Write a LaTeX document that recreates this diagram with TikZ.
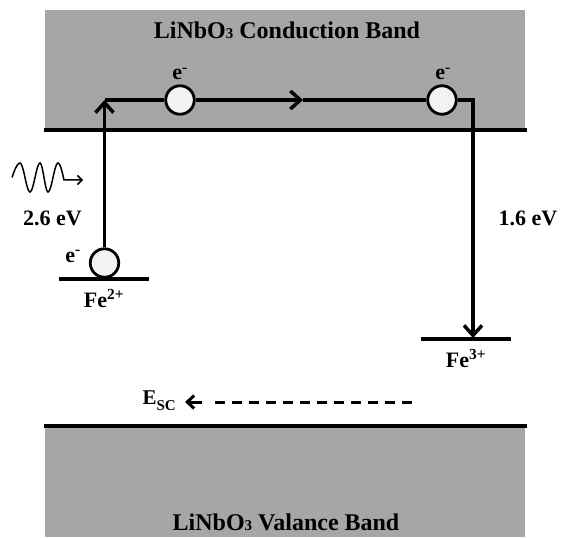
\documentclass[tikz,border=0pt]{standalone}
\usepackage{fontspec}
\setmainfont{Liberation Serif}
\usetikzlibrary{arrows.meta}
\definecolor{bandgray}{HTML}{A6A6A6}
\definecolor{elecfill}{HTML}{F2F2F2}
\begin{document}
\begin{tikzpicture}[x=1pt,y=-1pt,
  band/.style={fill=bandgray, draw=none},
  edgeline/.style={line width=3.2pt},
  elec/.style={circle, draw, line width=2.8pt, fill=elecfill, minimum size=28.5pt, inner sep=0pt},
  level/.style={line width=3.5pt},
  conn/.style={line width=3.5pt},
  arr/.style={conn, -{Straight Barb[length=10pt,width=18pt,line width=3.5pt]}},
  dasharr/.style={line width=3pt, dash pattern=on 10pt off 7pt},
  tiparr/.style={line width=3pt, -{Straight Barb[length=7pt,width=13pt,line width=3pt]}},
  wave/.style={line width=1.5pt, -{Straight Barb[length=4.5pt,width=9pt,line width=1.5pt]}},
  lbl/.style={font=\fontsize{22}{22}\selectfont\bfseries, inner sep=0pt},
  title/.style={font=\fontsize{24}{24}\selectfont\bfseries, inner sep=0pt},
]
\useasboundingbox (0,0) rectangle (561,537);
% bands
\fill[band] (44.5,10.5) rectangle (525,130);
\fill[band] (44.5,426) rectangle (525,537);
\draw[edgeline] (44,130) -- (527,130);
\draw[edgeline] (44,426) -- (527,426);
\node[title, anchor=base] (cb) at (287,39) {LiNbO{\fontsize{15}{15}\selectfont 3} Conduction Band};
\node[title, anchor=base] (vb) at (286,530) {LiNbO{\fontsize{15}{15}\selectfont 3} Valance Band};
% levels
\draw[level] (59,279) -- (149,279);
\draw[level] (421,339) -- (511,339);
% electrons
\node[elec] (c0) at (104.5,263) {};
\node[elec] (c1) at (180,100) {};
\node[elec] (c2) at (442,100) {};
% path coordinates
\coordinate (k1) at (104.5,100);
\coordinate (k2) at (473,100);
\coordinate (k3) at (473,338);
\coordinate (mid) at (303,100);
\draw[arr] (c0.north) -- (k1);
\draw[conn] (k1) -- (c1.west);
\draw[arr] (c1.east) -- (mid);
\draw[conn] (mid) -- (c2.west);
\draw[arr, line join=miter] (c2.east) -- (k2) -- (k3);
% labels
\node[lbl, anchor=base] (e1) at (180,80) {e\textsuperscript{-}};
\node[lbl, anchor=base] (e2) at (443,80) {e\textsuperscript{-}};
\node[lbl, anchor=base] (e0) at (73,262) {e\textsuperscript{-}};
\node[lbl, anchor=base] (fe2) at (104,307) {Fe\textsuperscript{2+}};
\node[lbl, anchor=base] (fe3) at (466,367) {Fe\textsuperscript{3+}};
\node[lbl, anchor=base] (ev26) at (52.5,225) {2.6 eV};
\node[lbl, anchor=base] (ev16) at (528,225) {1.6 eV};
% photon
\coordinate (w0) at (12,177.5);
\coordinate (w1) at (83,180);
\draw[wave] (w0) sin (20,163) cos (25,177.5) sin (30,192) cos (35,177.5) sin (40,163) cos (44,177.5) sin (48,192) cos (53,177.5) sin (58,163) cos (64,180) -- (w1);
% space charge field
\node[font=\fontsize{21}{21}\selectfont\bfseries, inner sep=0pt, anchor=base east] (esc) at (176,404) {E\raisebox{-6pt}{\fontsize{15}{15}\selectfont SC}};
\coordinate (d1) at (412,402);
\coordinate (d2) at (210,402);
\coordinate (d3) at (202,402);
\coordinate (d4) at (185,402);
\draw[dasharr] (d1) -- (d2);
\draw[tiparr] (d3) -- (d4);
\end{tikzpicture}
\end{document}
